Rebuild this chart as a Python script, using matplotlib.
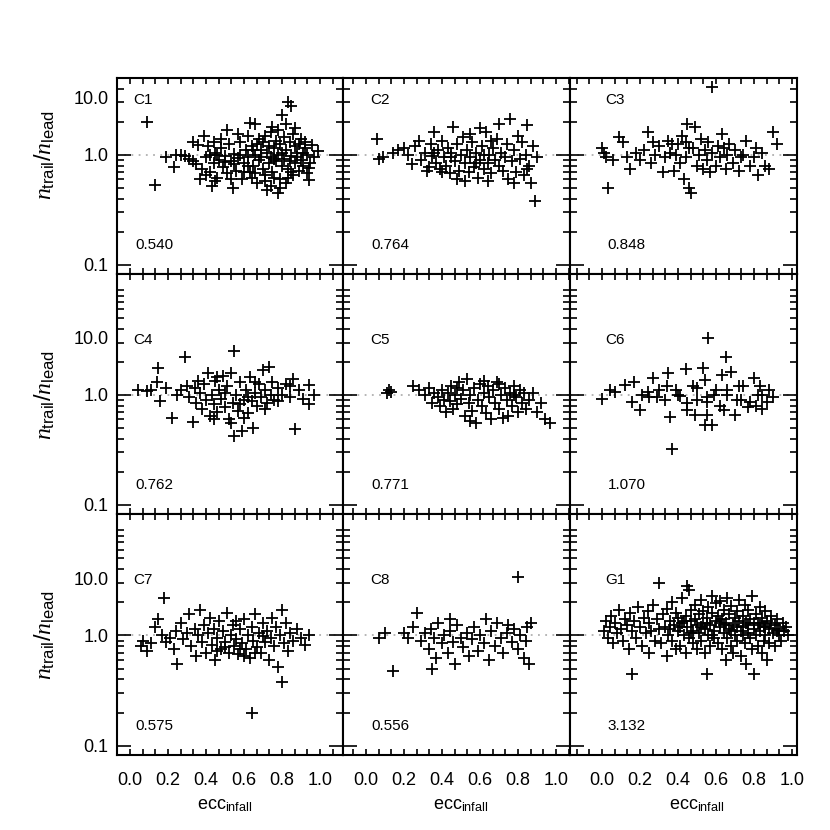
import numpy as np
import matplotlib.pyplot as plt
import matplotlib.transforms as mtransforms
from matplotlib.ticker import FixedLocator, FixedFormatter

plt.rcParams['font.family'] = ['Liberation Sans', 'DejaVu Sans']
plt.rcParams['mathtext.fontset'] = 'custom'
plt.rcParams['mathtext.rm'] = 'Liberation Sans'
plt.rcParams['mathtext.it'] = 'Liberation Serif:italic'

# (ecc_infall, n_trail/n_lead)
c1 = [(0.09,2.0),(0.13,0.53),(0.19,0.96),(0.23,0.78),(0.24,1.0),(0.27,1.0),(0.29,0.98),(0.31,0.92),
      (0.33,1.3),(0.33,0.88),(0.35,0.82),(0.37,0.6),(0.36,1.22),(0.38,0.75),(0.39,1.5),(0.40,0.95),
      (0.41,1.2),(0.42,0.7),(0.43,0.52),(0.44,0.85),(0.45,1.05),(0.46,0.62),(0.47,0.9),(0.48,1.15),
      (0.49,0.78),(0.50,0.98),(0.51,1.7),(0.51,0.68),(0.52,1.25),(0.53,0.88),(0.54,0.5),(0.55,1.02),
      (0.56,0.72),(0.57,0.93),(0.58,1.3),(0.59,0.6),(0.60,0.85),(0.61,1.1),(0.62,0.95),(0.63,1.95),
      (0.63,0.7),(0.64,1.2),(0.65,0.8),(0.66,1.9),(0.66,1.0),(0.67,0.55),(0.68,1.4),(0.68,0.9),
      (0.69,1.1),(0.70,0.75),(0.70,1.3),(0.71,0.65),(0.72,0.48),(0.72,1.05),(0.73,0.85),(0.74,1.6),
      (0.74,0.95),(0.75,1.8),(0.75,0.7),(0.76,1.15),(0.77,0.88),(0.77,1.35),(0.78,0.45),(0.78,1.0),
      (0.79,0.6),(0.79,1.25),(0.80,2.3),(0.80,0.8),(0.81,1.45),(0.81,0.92),(0.82,0.55),(0.82,1.1),
      (0.83,3.0),(0.83,0.75),(0.84,1.3),(0.85,2.8),(0.85,0.98),(0.86,0.65),(0.86,1.55),(0.87,0.85),
      (0.87,1.2),(0.88,1.05),(0.89,0.72),(0.90,1.4),(0.90,0.9),(0.91,0.8),(0.92,1.15),(0.93,1.0),
      (0.94,0.76),(0.94,0.59),(0.96,1.23),(0.99,1.09),(0.42,1.0),(0.46,1.0),(0.50,0.87),(0.55,0.82),
      (0.58,1.0),(0.62,0.8),(0.65,1.1),(0.69,0.95),(0.73,1.2),(0.76,0.92),(0.80,1.05),(0.84,0.88),
      (0.88,0.95),(0.91,1.05),(0.60,0.7),(0.64,0.62),(0.71,0.58),(0.74,0.52),(0.79,0.5),(0.83,0.62),
      (0.45,0.58),(0.40,0.66),(0.53,0.6),(0.67,1.25),(0.71,1.5),(0.78,1.7),(0.87,1.75),(0.82,1.9),
      (0.62,1.5),(0.48,1.4),(0.44,1.3),(0.57,1.55),(0.66,0.68),(0.76,0.62),(0.85,0.7),(0.93,0.68),
      (0.89,1.25),(0.92,1.3),(0.95,0.85),(0.97,0.95)]
c2 = [(0.06,1.4),(0.07,0.92),(0.09,0.95),(0.14,1.05),(0.17,1.1),(0.20,1.15),(0.22,1.0),(0.24,0.82),
      (0.26,1.2),(0.28,1.35),(0.29,0.9),(0.31,1.05),(0.32,0.72),(0.34,1.25),(0.35,0.98),(0.36,1.6),
      (0.37,0.85),(0.38,1.1),(0.39,0.75),(0.40,1.35),(0.41,0.95),(0.42,0.8),(0.43,1.15),(0.44,0.68),
      (0.45,1.05),(0.46,1.8),(0.47,0.88),(0.48,1.25),(0.49,0.72),(0.50,1.0),(0.51,1.45),(0.52,0.85),
      (0.53,1.1),(0.54,0.7),(0.55,0.95),(0.56,1.3),(0.57,0.78),(0.58,1.05),(0.59,0.62),(0.60,0.9),
      (0.61,1.2),(0.62,0.75),(0.63,1.6),(0.64,0.85),(0.65,1.0),(0.66,0.68),(0.67,1.15),(0.68,0.9),
      (0.69,1.4),(0.70,0.8),(0.71,1.05),(0.72,0.72),(0.73,0.95),(0.74,1.25),(0.75,0.6),(0.76,2.1),
      (0.77,0.88),(0.78,1.1),(0.79,0.7),(0.80,1.5),(0.81,0.92),(0.82,1.3),(0.83,0.65),(0.84,1.0),
      (0.85,1.85),(0.86,0.8),(0.87,0.55),(0.88,1.2),(0.89,0.38),(0.90,0.95),(0.55,1.55),(0.60,1.75),
      (0.66,1.35),(0.48,0.6),(0.52,0.58),(0.64,0.58),(0.40,0.7),(0.33,0.78),(0.70,1.9),(0.78,0.55),
      (0.85,0.75),(0.58,0.85),(0.62,1.0),(0.45,0.95),(0.36,1.05)]
c3 = [(0.00,1.15),(0.01,1.05),(0.02,0.95),(0.03,0.5),(0.06,0.9),(0.09,1.45),(0.11,1.3),(0.13,0.95),
      (0.15,0.75),(0.18,1.05),(0.20,0.9),(0.22,1.1),(0.24,1.6),(0.26,0.85),(0.28,1.0),(0.30,1.2),
      (0.32,0.7),(0.33,0.95),(0.35,1.35),(0.36,1.05),(0.38,0.72),(0.39,1.0),(0.40,1.25),(0.41,0.85),
      (0.42,1.5),(0.43,0.6),(0.44,0.95),(0.45,1.9),(0.46,0.5),(0.47,0.45),(0.48,1.15),(0.49,1.8),
      (0.50,0.8),(0.51,1.0),(0.52,1.4),(0.53,0.75),(0.54,1.1),(0.55,0.9),(0.56,1.3),(0.58,4.1),
      (0.58,1.05),(0.60,0.8),(0.61,1.2),(0.62,0.95),(0.63,1.55),(0.65,0.75),(0.66,1.0),(0.67,1.25),
      (0.69,0.85),(0.70,1.1),(0.72,0.72),(0.74,1.0),(0.76,1.35),(0.78,0.8),(0.80,0.95),(0.82,0.65),
      (0.84,1.05),(0.86,0.8),(0.88,0.75),(0.90,1.6),(0.92,1.25),(0.44,1.3),(0.37,1.25),(0.27,1.3),
      (0.46,1.15),(0.57,0.7),(0.64,1.15),(0.73,0.95),(0.81,1.15)]
c4 = [(0.04,1.1),(0.09,1.09),(0.11,1.1),(0.14,1.3),(0.15,1.75),(0.16,0.88),(0.19,1.15),(0.22,0.62),
      (0.25,1.0),(0.27,1.1),(0.29,2.2),(0.30,1.2),(0.31,0.95),(0.33,0.57),(0.34,1.15),(0.35,0.85),
      (0.37,1.05),(0.38,0.75),(0.39,1.25),(0.40,0.9),(0.41,1.6),(0.42,0.64),(0.43,1.0),(0.44,0.82),
      (0.45,1.35),(0.46,0.7),(0.47,1.1),(0.48,0.92),(0.49,1.5),(0.50,0.78),(0.51,1.2),(0.52,0.6),
      (0.53,1.6),(0.54,0.85),(0.55,0.42),(0.55,2.5),(0.56,1.0),(0.57,0.72),(0.58,1.3),(0.59,0.47),
      (0.60,0.9),(0.61,1.1),(0.62,0.68),(0.63,1.45),(0.64,0.88),(0.65,0.5),(0.66,1.05),(0.67,0.8),
      (0.68,1.25),(0.69,0.95),(0.70,1.7),(0.71,1.1),(0.72,0.85),(0.73,1.8),(0.74,1.0),(0.75,1.3),
      (0.76,0.9),(0.78,1.15),(0.80,1.0),(0.82,1.25),(0.84,0.95),(0.86,1.4),(0.87,0.49),(0.89,1.1),
      (0.91,0.92),(0.94,1.23),(0.94,0.83),(0.97,1.0),(0.46,1.45),(0.50,1.05),(0.58,0.82),(0.62,0.95),
      (0.36,1.35),(0.44,0.6),(0.53,0.55),(0.60,0.62),(0.71,0.75),(0.66,1.3),(0.78,0.88),(0.84,1.2)]
c5 = [(0.11,1.05),(0.12,1.1),(0.13,1.07),(0.25,1.2),(0.28,1.1),(0.31,1.0),(0.33,1.15),(0.35,0.85),
      (0.36,1.05),(0.38,0.95),(0.39,0.8),(0.40,1.1),(0.41,0.9),(0.42,0.7),(0.43,1.05),(0.44,0.88),
      (0.45,1.2),(0.46,0.75),(0.47,1.0),(0.48,0.82),(0.49,1.3),(0.50,0.92),(0.51,1.1),(0.52,0.65),
      (0.53,1.4),(0.54,0.85),(0.55,1.0),(0.56,0.72),(0.57,1.15),(0.58,0.55),(0.59,0.9),(0.60,1.25),
      (0.61,0.8),(0.62,1.05),(0.63,0.68),(0.64,1.2),(0.65,0.95),(0.66,0.6),(0.67,1.1),(0.68,0.85),
      (0.69,1.3),(0.70,0.75),(0.71,1.0),(0.72,0.62),(0.73,1.15),(0.74,0.9),(0.75,0.65),(0.76,1.05),
      (0.77,0.8),(0.78,1.2),(0.79,0.95),(0.80,0.7),(0.81,1.1),(0.82,0.85),(0.83,1.05),(0.84,0.75),
      (0.86,0.9),(0.88,1.05),(0.90,0.7),(0.92,0.85),(0.94,0.6),(0.97,0.55),(0.55,0.58),(0.62,1.35),
      (0.48,1.15),(0.70,1.25),(0.78,1.0)]
c6 = [(0.00,0.92),(0.04,1.1),(0.07,1.06),(0.12,1.23),(0.16,0.86),(0.17,1.31),(0.20,0.73),(0.21,1.0),
      (0.24,1.06),(0.27,1.43),(0.29,0.96),(0.35,1.58),(0.36,0.63),(0.34,1.2),(0.39,1.1),(0.41,0.98),
      (0.44,1.72),(0.45,0.73),(0.48,1.2),(0.49,0.66),(0.50,0.9),(0.53,1.76),(0.54,1.38),(0.55,0.86),
      (0.55,0.66),(0.54,0.53),(0.58,0.53),(0.56,3.3),(0.59,1.0),(0.63,1.52),(0.65,2.2),(0.64,0.73),
      (0.66,1.1),(0.68,1.62),(0.70,0.66),(0.72,1.2),(0.73,0.9),(0.78,0.86),(0.80,1.43),(0.81,0.79),
      (0.83,1.2),(0.87,0.86),(0.84,1.0),(0.37,0.32),(0.25,0.95),(0.30,1.1),(0.33,0.9),(0.40,1.0),
      (0.45,0.85),(0.50,1.15),(0.55,0.95),(0.60,1.1),(0.62,0.8),(0.66,1.0),(0.71,0.9),(0.74,1.2),
      (0.77,0.78),(0.82,1.0),(0.84,0.75),(0.90,0.95),(0.88,1.1)]
c7 = [(0.06,0.8),(0.07,0.9),(0.09,0.72),(0.11,0.85),(0.13,1.2),(0.15,1.4),(0.18,2.2),(0.17,1.0),
      (0.19,0.88),(0.21,0.95),(0.23,0.75),(0.24,1.1),(0.25,0.55),(0.27,1.3),(0.28,0.92),(0.30,1.05),
      (0.31,1.55),(0.32,0.8),(0.34,1.15),(0.35,0.65),(0.36,1.0),(0.37,1.7),(0.38,0.88),(0.39,1.25),
      (0.40,0.7),(0.41,1.05),(0.42,1.45),(0.43,0.82),(0.44,1.15),(0.45,0.6),(0.46,0.95),(0.47,1.35),
      (0.48,0.75),(0.49,1.1),(0.50,0.88),(0.51,1.6),(0.52,0.7),(0.53,1.0),(0.54,1.25),(0.55,0.8),
      (0.56,0.92),(0.57,0.68),(0.58,1.15),(0.59,0.85),(0.60,1.4),(0.61,0.75),(0.62,1.0),(0.63,0.62),
      (0.64,0.2),(0.64,1.2),(0.65,0.9),(0.66,1.55),(0.67,0.78),(0.68,1.05),(0.69,0.7),(0.70,1.3),
      (0.71,0.88),(0.72,1.1),(0.73,0.6),(0.74,0.95),(0.75,1.45),(0.76,0.8),(0.77,1.2),(0.78,0.52),
      (0.79,1.0),(0.80,0.38),(0.80,1.7),(0.81,0.85),(0.82,1.3),(0.83,0.72),(0.84,1.05),(0.86,0.9),
      (0.88,1.15),(0.90,0.95),(0.92,0.82),(0.94,1.0),(0.50,0.78),(0.56,1.35),(0.60,0.65),(0.46,0.72),
      (0.66,0.7),(0.58,0.75),(0.70,0.98)]
c8 = [(0.07,0.95),(0.10,1.05),(0.14,0.48),(0.20,1.05),(0.22,0.95),(0.25,1.2),(0.27,1.6),(0.29,0.9),
      (0.31,1.05),(0.33,0.75),(0.34,1.15),(0.36,0.95),(0.37,0.62),(0.38,1.3),(0.40,0.85),(0.41,1.0),
      (0.43,0.7),(0.44,1.1),(0.46,0.88),(0.47,0.55),(0.48,1.25),(0.50,0.95),(0.51,0.78),(0.53,1.05),
      (0.54,0.65),(0.56,0.92),(0.57,1.2),(0.59,0.72),(0.60,1.0),(0.62,0.85),(0.63,1.4),(0.65,0.6),
      (0.66,1.1),(0.68,0.8),(0.69,1.3),(0.71,0.95),(0.72,0.7),(0.74,1.05),(0.75,1.25),(0.77,0.88),
      (0.78,1.15),(0.80,3.4),(0.80,0.75),(0.81,1.0),(0.83,0.62),(0.84,0.9),(0.85,1.2),(0.86,0.55),
      (0.87,1.3),(0.44,1.4),(0.35,0.5)]
g1 = [(0.01,1.1),(0.02,1.35),(0.03,0.95),(0.04,1.2),(0.05,1.5),(0.06,0.85),(0.07,1.3),(0.08,1.05),
      (0.09,1.7),(0.10,1.15),(0.11,0.9),(0.12,1.4),(0.13,1.25),(0.14,0.75),(0.15,1.6),(0.16,0.45),
      (0.16,1.1),(0.17,1.35),(0.18,0.95),(0.19,1.8),(0.20,1.2),(0.21,0.8),(0.22,1.45),(0.23,1.05),
      (0.24,1.65),(0.25,0.7),(0.25,1.3),(0.26,1.1),(0.27,1.9),(0.28,0.9),(0.29,1.4),(0.30,3.0),
      (0.30,1.15),(0.31,0.85),(0.32,1.55),(0.33,1.2),(0.34,0.65),(0.34,1.75),(0.35,1.0),(0.36,1.35),
      (0.37,2.0),(0.37,0.9),(0.38,1.25),(0.39,0.75),(0.39,1.6),(0.40,1.1),(0.40,1.45),(0.41,0.8),
      (0.42,1.3),(0.42,2.2),(0.43,1.0),(0.44,1.5),(0.44,0.7),(0.45,2.8),(0.45,1.2),(0.46,2.6),
      (0.46,0.95),(0.47,1.7),(0.47,1.35),(0.48,0.85),(0.48,1.1),(0.49,1.9),(0.49,1.4),(0.50,0.75),
      (0.50,1.25),(0.51,1.55),(0.51,1.05),(0.52,2.1),(0.52,0.9),(0.53,1.3),(0.53,1.65),(0.54,0.7),
      (0.54,1.15),(0.55,0.45),(0.55,1.45),(0.56,1.0),(0.56,1.8),(0.57,1.25),(0.57,0.8),(0.58,1.6),
      (0.58,2.3),(0.59,1.1),(0.59,0.95),(0.60,1.35),(0.60,1.95),(0.61,0.85),(0.61,1.5),(0.62,1.2),
      (0.62,2.05),(0.63,0.75),(0.63,1.4),(0.64,1.05),(0.64,1.7),(0.65,0.6),(0.65,1.3),(0.66,2.2),
      (0.66,0.95),(0.67,1.55),(0.67,1.15),(0.68,0.8),(0.68,1.85),(0.69,1.25),(0.69,0.7),(0.70,1.45),
      (0.70,1.0),(0.71,1.65),(0.71,0.9),(0.72,1.35),(0.72,2.1),(0.73,1.1),(0.73,0.65),(0.74,1.5),
      (0.74,1.2),(0.75,0.85),(0.75,1.9),(0.76,1.3),(0.76,0.55),(0.77,1.05),(0.77,1.7),(0.78,0.95),
      (0.78,1.4),(0.79,2.3),(0.79,0.75),(0.80,1.15),(0.80,0.45),(0.81,1.55),(0.81,1.0),(0.82,0.8),
      (0.82,1.3),(0.83,1.8),(0.83,1.1),(0.84,0.7),(0.84,1.45),(0.85,1.2),(0.85,0.9),(0.86,1.65),
      (0.86,1.0),(0.87,0.6),(0.87,1.35),(0.88,1.15),(0.88,0.85),(0.89,1.5),(0.90,1.05),(0.91,1.25),
      (0.91,0.8),(0.92,1.4),(0.93,1.0),(0.93,1.15),(0.94,0.9),(0.95,1.3),(0.96,1.1),(0.97,1.2),
      (0.98,1.0),(0.36,1.15),(0.41,1.2),(0.43,1.35),(0.47,1.05),(0.52,1.2),(0.55,1.3),(0.58,1.0),
      (0.62,1.3),(0.64,1.25),(0.68,1.1),(0.71,1.2),(0.74,1.0),(0.77,1.25),(0.80,1.3),(0.83,1.25),
      (0.86,1.2),(0.89,1.3),(0.92,1.1)]

names = ["C1", "C2", "C3", "C4", "C5", "C6", "C7", "C8", "G1"]
values = ["0.540", "0.764", "0.848", "0.762", "0.771", "1.070", "0.575", "0.556", "3.132"]
datasets = [c1, c2, c3, c4, c5, c6, c7, c8, g1]

W = 830.0
fig = plt.figure(figsize=(8.3, 8.3), dpi=100)

# panel edges in pixels
col_l = [117, 343, 570]
col_r = [343, 570, 797]
row_t = [78, 274, 514]
row_b = [274, 514, 755]
xlims = [(-0.068, 1.121), (-0.121, 1.074), (-0.168, 1.026)]
ylims = [(0.0826, 5.0), (0.0826, 12.6), (0.0826, 12.6)]

ytick_vals = [0.1, 0.2, 0.3, 0.4, 0.5, 0.6, 0.7, 0.8, 0.9, 1.0, 2, 3, 4, 5, 6, 7, 8, 9]
ytick_text = {0.1: '0.1', 1.0: '1.0'}
xtick_text = {0: '0.0', 3: '0.2', 6: '0.4', 9: '0.6', 12: '0.8', 15: '1.0'}

for i in range(9):
    r, c = i // 3, i % 3
    ax = fig.add_axes([col_l[c] / W, 1 - row_b[r] / W,
                       (col_r[c] - col_l[c]) / W, (row_b[r] - row_t[r]) / W])
    pts = np.array(datasets[i])
    ax.set_yscale('log')
    ax.axhline(1.0, color='#b0b0b0', ls=(0, (1, 3)), lw=1.3, zorder=1)
    ax.plot(pts[:, 0], pts[:, 1], '+', color='k', ms=8, mew=1.3, zorder=3)
    ax.set_xlim(*xlims[c])
    ax.set_ylim(*ylims[r])

    # all ticks as major ticks, the unlabelled ones shortened afterwards
    yt = [t for t in ytick_vals if ylims[r][0] < t < ylims[r][1]]
    ylab = [ytick_text.get(t, '') if c == 0 else '' for t in yt]
    ax.yaxis.set_major_locator(FixedLocator(yt))
    ax.yaxis.set_major_formatter(FixedFormatter(ylab))
    ax.yaxis.set_minor_locator(FixedLocator([]))

    ks = [k for k in range(-3, 18) if xlims[c][0] < k / 15.0 < xlims[c][1]]
    xt = [k / 15.0 for k in ks]
    xlab = [xtick_text.get(k, '') if r == 2 else '' for k in ks]
    ax.xaxis.set_major_locator(FixedLocator(xt))
    ax.xaxis.set_major_formatter(FixedFormatter(xlab))
    ax.xaxis.set_minor_locator(FixedLocator([]))

    ax.tick_params(axis='y', which='major', direction='in', length=10, width=1.2,
                   left=True, right=True, labelsize=13, pad=6)
    ax.tick_params(axis='x', which='major', direction='in', length=4, width=1.2,
                   top=True, bottom=True, labelsize=13, pad=12)
    for t, tk in zip(yt, ax.yaxis.get_major_ticks(len(yt))):
        if t not in (0.1, 1.0):
            tk.tick1line.set_markersize(5)
            tk.tick2line.set_markersize(5)
    for s in ax.spines.values():
        s.set_linewidth(1.5)

    if c == 0:
        tr = mtransforms.blended_transform_factory(ax.transAxes, ax.transData)
        ax.text(-0.035, 10 ** 0.5, '10.0', transform=tr, ha='right', va='center',
                fontsize=13)
    if r == 2:
        ax.annotate(r'ecc$_{\rm infall}$', xy=(0.5, 0), xycoords=('data', 'axes fraction'),
                    xytext=(0, -30), textcoords='offset points', ha='center', va='top',
                    fontsize=13)

    ax.text(0.02, 10 ** 0.5, names[i], ha='left', va='center', fontsize=11)
    ax.text(0.03, 0.152, values[i], ha='left', va='center', fontsize=11)

for yl in [155, 395, 635]:
    fig.text(45 / W, 1 - yl / W, r'$n_{\rm trail}/n_{\rm lead}$', rotation=90,
             ha='center', va='center', fontsize=17)

fig.savefig('out.png', dpi=100)
